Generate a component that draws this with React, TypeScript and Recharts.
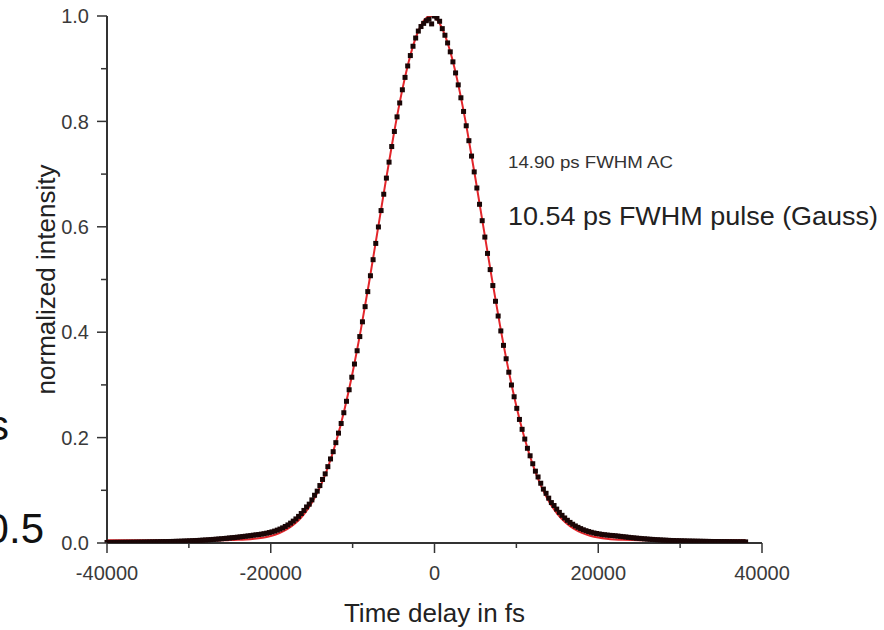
import React from 'react';
import { ComposedChart, Scatter, Line, XAxis, YAxis } from 'recharts';

// measured autocorrelation trace, one sample every 325 fs starting at -40000 fs
const MEAS_START = -40000;
const MEAS_STEP = 325;
const MEAS_INTENSITY = [
  0.0010, 0.0011, 0.0011, 0.0012, 0.0012, 0.0013, 0.0013, 0.0014, 0.0014, 0.0015,
  0.0015, 0.0016, 0.0017, 0.0017, 0.0018, 0.0019, 0.0020, 0.0021, 0.0022, 0.0023,
  0.0024, 0.0025, 0.0026, 0.0027, 0.0029, 0.0030, 0.0032, 0.0033, 0.0035, 0.0037,
  0.0039, 0.0041, 0.0043, 0.0046, 0.0048, 0.0051, 0.0054, 0.0057, 0.0060, 0.0064,
  0.0068, 0.0072, 0.0076, 0.0080, 0.0085, 0.0090, 0.0095, 0.0100, 0.0105, 0.0110,
  0.0116, 0.0122, 0.0128, 0.0134,
  0.0140, 0.0148, 0.0154, 0.0160, 0.0168, 0.0176, 0.0186, 0.0198, 0.0211, 0.0226,
  0.0244, 0.0264, 0.0287, 0.0314, 0.0343, 0.0377, 0.0415, 0.0457, 0.0505, 0.0559,
  0.0618, 0.0684, 0.0737, 0.0818, 0.0906, 0.0984, 0.1090, 0.1206, 0.1312, 0.1449,
  0.1595, 0.1733, 0.1904, 0.2085, 0.2268, 0.2472, 0.2689, 0.2908, 0.3146, 0.3396,
  0.3648, 0.3917, 0.4197, 0.4485, 0.4770, 0.5071, 0.5376, 0.5685, 0.5997, 0.6308,
  0.6618, 0.6924, 0.7227, 0.7523, 0.7809, 0.8086, 0.8350, 0.8600, 0.8835, 0.9052,
  0.9249, 0.9426, 0.9582, 0.9714, 0.9800, 0.9860, 0.9910, 0.9940, 0.9850, 1.0000,
  0.9960, 0.9900, 0.9760, 0.9635, 0.9489, 0.9320, 0.9130, 0.8920, 0.8693, 0.8448,
  0.8189, 0.7917, 0.7634, 0.7342, 0.7042, 0.6736, 0.6427, 0.6116, 0.5805, 0.5495,
  0.5188, 0.4885, 0.4587, 0.4307, 0.4024, 0.3750, 0.3496, 0.3241, 0.2998, 0.2775,
  0.2555, 0.2345, 0.2157, 0.1972, 0.1797, 0.1655, 0.1504, 0.1363, 0.1253, 0.1134,
  0.1023, 0.0943, 0.0851, 0.0767, 0.0711, 0.0643, 0.0581, 0.0525, 0.0475, 0.0431,
  0.0391, 0.0356, 0.0324, 0.0297, 0.0273, 0.0251, 0.0233, 0.0217, 0.0203, 0.0190,
  0.0180, 0.0171, 0.0163, 0.0156, 0.0150, 0.0145,
  0.0141, 0.0136, 0.0131, 0.0125, 0.0119, 0.0114, 0.0108, 0.0102, 0.0097, 0.0092,
  0.0088, 0.0083, 0.0079, 0.0075, 0.0071, 0.0068, 0.0064, 0.0061, 0.0058, 0.0055,
  0.0053, 0.0050, 0.0048, 0.0046, 0.0044, 0.0043, 0.0041, 0.0040, 0.0038, 0.0037,
  0.0036, 0.0035, 0.0034, 0.0033, 0.0032, 0.0031, 0.0030, 0.0029, 0.0028, 0.0028,
  0.0027, 0.0026, 0.0026, 0.0025, 0.0024, 0.0024, 0.0023, 0.0023, 0.0022, 0.0022,
  0.0021,
];

// gaussian fit curve, one value every 1000 fs starting at -40000 fs
const FIT_START = -40000;
const FIT_STEP = 1000;
const FIT_INTENSITY = [
  0.005, 0.005, 0.005, 0.005, 0.005, 0.005, 0.005, 0.005, 0.005, 0.005,
  0.005, 0.005, 0.005, 0.005, 0.005,
  0.0055, 0.0060, 0.0067, 0.0080, 0.0101, 0.0134, 0.0185, 0.0263, 0.0375, 0.0536,
  0.0758, 0.1055, 0.1442, 0.1931, 0.2529, 0.3236, 0.4044, 0.4933, 0.5874, 0.6824,
  0.7733, 0.8551, 0.9224, 0.9706, 0.9962, 0.9975, 0.9743, 0.9282, 0.8626, 0.7820,
  0.6917, 0.5969, 0.5026, 0.4130, 0.3313, 0.2595, 0.1986, 0.1487, 0.1090, 0.0783,
  0.0555, 0.0389, 0.0272, 0.0192, 0.0138, 0.0104, 0.0082, 0.0068, 0.0060, 0.0056,
  0.0053,
  0.005, 0.005, 0.005, 0.005, 0.005, 0.005, 0.005, 0.005, 0.005, 0.005,
  0.005, 0.005, 0.005,
];

const X_TICKS = [-40000, -30000, -20000, -10000, 0, 10000, 20000, 30000, 40000];
const Y_TICKS = [0, 0.1, 0.2, 0.3, 0.4, 0.5, 0.6, 0.7, 0.8, 0.9, 1.0];

const FONT = '"Liberation Sans", Arial, sans-serif';

const measData = MEAS_INTENSITY.map((y, i) => ({ x: MEAS_START + i * MEAS_STEP, y }));
const fitData = FIT_INTENSITY.map((y, i) => ({ x: FIT_START + i * FIT_STEP, y }));

const XTick = (props: any) => {
  const { x, y, payload } = props;
  const major = payload.value % 20000 === 0;
  return (
    <g>
      <line x1={x} x2={x} y1={y} y2={y + (major ? 10 : 5)} stroke="#333" strokeWidth={1.5} />
      {major && (
        <text x={x} y={y + 37} textAnchor="middle" fontSize={20} fill="#3a3a3a" fontFamily={FONT}>
          {payload.value}
        </text>
      )}
    </g>
  );
};

const YTick = (props: any) => {
  const { x, y, payload } = props;
  const major = Math.round(payload.value * 10) % 2 === 0;
  return (
    <g>
      <line x1={x - (major ? 10 : 6)} x2={x} y1={y} y2={y} stroke="#333" strokeWidth={1.5} />
      {major && (
        <text x={x - 18} y={y} dy="0.36em" textAnchor="end" fontSize={20} fill="#3a3a3a" fontFamily={FONT}>
          {payload.value.toFixed(1)}
        </text>
      )}
    </g>
  );
};

const Square = (props: any) => {
  const { cx, cy } = props;
  return <rect x={cx - 2.5} y={cy - 2.5} width={5} height={5} fill="#1a0606" />;
};

export default function App() {
  return (
    <div style={{ position: 'absolute', left: 0, top: 0, width: 884, height: 630, background: '#fff' }}>
      <ComposedChart width={884} height={630} margin={{ top: 16, right: 122, bottom: 0, left: 0 }}>
        <XAxis
          dataKey="x"
          type="number"
          domain={[-40000, 40000]}
          ticks={X_TICKS}
          interval={0}
          height={87}
          tickSize={0}
          tickMargin={0}
          tick={<XTick />}
          axisLine={{ stroke: '#333', strokeWidth: 2 }}
          label={{ value: 'Time delay in fs', position: 'insideBottom', offset: 8, fontSize: 26, fill: '#222', fontFamily: FONT }}
        />
        <YAxis
          dataKey="y"
          type="number"
          domain={[0, 1]}
          ticks={Y_TICKS}
          interval={0}
          width={107}
          tickSize={0}
          tickMargin={0}
          tick={<YTick />}
          axisLine={{ stroke: '#333', strokeWidth: 2 }}
          allowDataOverflow
          label={{
            value: 'normalized intensity',
            angle: -90,
            position: 'insideLeft',
            offset: 46,
            fontSize: 26,
            fill: '#222',
            fontFamily: FONT,
            style: { textAnchor: 'middle' },
          }}
        />
        <Scatter data={measData} dataKey="y" shape={<Square />} isAnimationActive={false} />
        <Line
          data={fitData}
          dataKey="y"
          type="natural"
          stroke="#e3262b"
          strokeWidth={2}
          dot={false}
          isAnimationActive={false}
        />
      </ComposedChart>
      <svg
        width={884}
        height={630}
        style={{ position: 'absolute', left: 0, top: 0, pointerEvents: 'none' }}
        fontFamily={FONT}
      >
        <text x={508} y={168} fontSize={17} fill="#333" textLength={165} lengthAdjust="spacingAndGlyphs">
          14.90 ps FWHM AC
        </text>
        <text x={508} y={225} fontSize={26} fill="#222" textLength={370} lengthAdjust="spacingAndGlyphs">
          10.54 ps FWHM pulse (Gauss)
        </text>
        <text x={9} y={440} fontSize={42} fill="#111" textAnchor="end">
          s
        </text>
        <text x={44} y={543} fontSize={42} fill="#111" textAnchor="end">
          0.5
        </text>
      </svg>
    </div>
  );
}
